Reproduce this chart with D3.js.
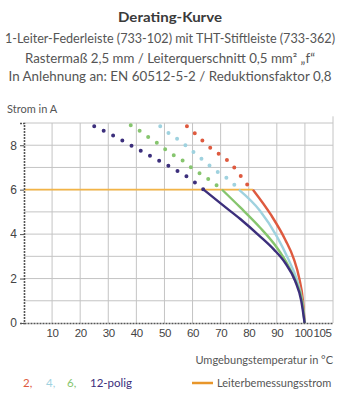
<!DOCTYPE html>
<html>
<head>
<meta charset="utf-8">
<script src="https://cdn.jsdelivr.net/npm/d3@7"></script>
<style>
  body { margin: 0; background: #fff; }
  svg { display: block; font-family: Lato, "Open Sans", sans-serif; }
</style>
</head>
<body>
<svg id="chart"></svg>
<script>
// tick labels
const tempTicks = [10, 20, 30, 40, 50, 60, 70, 80, 90, 100, 105];
const currentTicks = [0, 2, 4, 6, 8];

// series: pole count -> [temperature, current]
const poles = ['2', '4', '6', '12'];
const poleColors = ['#de5a3f', '#9fd2df', '#86c56e', '#3c2f7c'];

const dotted2 = [[58, 8.85], [62, 8.4], [65, 8.02], [68.5, 7.69], [72.5, 7.3], [76, 6.82], [79, 6.3], [81.5, 6.0]];
const solid2 = [[81.5, 6.0], [88, 4.85], [93, 3.75], [96, 2.9], [98, 2.0], [99.3, 1.0], [99.9, 0]];

const dotted4 = [[48.5, 8.85], [52, 8.5], [55.5, 8.2], [59, 7.84], [62.5, 7.46], [66, 7.09], [69.5, 6.74], [73, 6.44], [76.5, 6.0]];
const solid4 = [[76.5, 6.0], [84, 5.05], [90, 3.9], [94, 2.9], [97, 2.0], [99, 1.0], [99.9, 0]];

const dotted6 = [[38, 8.9], [41.5, 8.62], [45, 8.3], [48.5, 8.0], [52, 7.64], [55.5, 7.4], [59, 7.04], [62.5, 6.74], [66, 6.44], [70.5, 6.0]];
const solid6 = [[70.5, 6.0], [77, 5.2], [84, 4.3], [90, 3.4], [94, 2.6], [97, 1.8], [99, 1.0], [99.9, 0]];

const dotted12 = [[25, 8.85], [32, 8.42], [38, 8.0], [45, 7.52], [52, 7.03], [59, 6.5], [64, 6.0]];
const solid12 = [[64, 6.0], [70, 5.38], [77, 4.68], [84, 3.9], [89, 3.3], [93, 2.7], [96.5, 1.9], [98.7, 1.0], [99.9, 0]];

const dottedSeries = [dotted2, dotted4, dotted6, dotted12];
const solidSeries = [solid2, solid4, solid6, solid12];

// rated conductor current
const ratedCurrent = 6;
const ratedRange = [0, 81.5];

const titleLines = [
    'Derating-Kurve',
    '1-Leiter-Federleiste (733-102) mit THT-Stiftleiste (733-362)',
    'Rastermaß 2,5 mm / Leiterquerschnitt 0,5 mm² „f“',
    'In Anlehnung an: EN 60512-5-2 / Reduktionsfaktor 0,8'
];

class DeratingChart {

    constructor(config) {
        this.config = {
            parent: config.parent,
            width: config.width || 351,
            height: config.height || 400,
            margin: config.margin || {top: 123, right: 18, bottom: 77, left: 24}
        };
        this.init();
    }

    init() {
        let self = this;
        const m = self.config.margin;

        self.svg = d3.select(self.config.parent)
            .attr('width', self.config.width)
            .attr('height', self.config.height);

        self.inner_width = self.config.width - m.left - m.right;
        self.inner_height = self.config.height - m.top - m.bottom;

        self.chart = self.svg.append('g')
            .attr('transform', `translate(${m.left}, ${m.top})`);

        self.xscale = d3.scaleLinear().domain([0, 110]).range([0, self.inner_width]);
        self.yscale = d3.scaleLinear().domain([0, 9]).range([self.inner_height, 0]);
    }

    render() {
        let self = this;
        const x = self.xscale, y = self.yscale;
        const W = self.inner_width, H = self.inner_height;

        // titles
        const tl = [
            {y: 22, size: 14, weight: 'bold', fill: '#3a3a3a', len: 104},
            {y: 43, size: 12.5, weight: 'normal', fill: '#555', len: 330},
            {y: 63, size: 12.5, weight: 'normal', fill: '#555', len: 290},
            {y: 81, size: 12.5, weight: 'normal', fill: '#555', len: 323}
        ];
        self.svg.selectAll('.title')
            .data(titleLines)
            .join('text')
            .attr('class', 'title')
            .attr('x', 170)
            .attr('y', (d, i) => tl[i].y)
            .attr('text-anchor', 'middle')
            .style('font-size', (d, i) => tl[i].size + 'px')
            .style('font-weight', (d, i) => tl[i].weight)
            .attr('fill', (d, i) => tl[i].fill)
            .attr('textLength', (d, i) => tl[i].len)
            .attr('lengthAdjust', 'spacingAndGlyphs')
            .text(d => d);

        // grid
        const grid = self.chart.append('g');
        grid.selectAll('.hgrid')
            .data(d3.range(1, 10))
            .join('line')
            .attr('x1', 0).attr('x2', W)
            .attr('y1', d => y(d)).attr('y2', d => y(d))
            .attr('stroke', '#c4c4c4').attr('stroke-width', 1);
        grid.selectAll('.vgrid')
            .data(d3.range(10, 110, 10))
            .join('line')
            .attr('x1', d => x(d)).attr('x2', d => x(d))
            .attr('y1', y(0)).attr('y2', y(9))
            .attr('stroke', '#c4c4c4').attr('stroke-width', 1);
        grid.append('line')
            .attr('x1', x(110)).attr('x2', x(110))
            .attr('y1', y(0)).attr('y2', y(9.3))
            .attr('stroke', '#c4c4c4').attr('stroke-width', 1);

        // rated current line
        self.chart.append('line')
            .attr('x1', x(ratedRange[0])).attr('x2', x(ratedRange[1]))
            .attr('y1', y(ratedCurrent)).attr('y2', y(ratedCurrent))
            .attr('stroke', '#f2b447').attr('stroke-width', 1.6);

        const line = d3.line()
            .x(d => x(d[0]))
            .y(d => y(d[1]))
            .curve(d3.curveMonotoneX);

        // dotted parts
        self.chart.selectAll('.dotted')
            .data(dottedSeries)
            .join('path')
            .attr('d', line)
            .attr('fill', 'none')
            .attr('stroke', (d, i) => poleColors[i])
            .attr('stroke-width', 4)
            .attr('stroke-linecap', 'round')
            .attr('stroke-dasharray', '0 10.5');

        // solid parts
        self.chart.selectAll('.solid')
            .data(solidSeries)
            .join('path')
            .attr('d', line)
            .attr('fill', 'none')
            .attr('stroke', (d, i) => poleColors[i])
            .attr('stroke-width', 2.4);

        // axes
        const yaxis = d3.axisLeft(y).tickValues(currentTicks).tickSize(4).tickPadding(3);
        const yg = self.chart.append('g').call(yaxis);
        yg.select('.domain').attr('stroke', '#555').attr('stroke-width', 1.6).attr('stroke-dasharray', '2 1');
        yg.selectAll('.tick line').attr('stroke', '#555');
        yg.selectAll('text').style('font-size', '12px').attr('fill', '#444');

        const xaxis = d3.axisBottom(x).tickValues(tempTicks).tickSize(0).tickPadding(6);
        const xg = self.chart.append('g')
            .attr('transform', `translate(0, ${H})`)
            .call(xaxis);
        xg.select('.domain').attr('stroke', '#555').attr('stroke-width', 1.6).attr('stroke-dasharray', '2 1');
        xg.selectAll('text')
            .style('font-size', '11.5px')
            .style('letter-spacing', '-0.4px')
            .attr('fill', '#444')
            .attr('dx', d => d === 100 ? -2 : d === 105 ? 3 : 0);

        // axis titles
        self.svg.append('text')
            .attr('x', 7).attr('y', 113)
            .style('font-size', '11px').attr('fill', '#555')
            .text('Strom in A');
        self.svg.append('text')
            .attr('x', 333).attr('y', 364)
            .attr('text-anchor', 'end')
            .style('font-size', '11px').attr('fill', '#555')
            .text('Umgebungstemperatur in °C');

        // legend
        const legX = [23, 46, 67, 90];
        const leg = self.svg.append('text')
            .attr('y', 387)
            .style('font-size', '11.5px');
        poles.forEach((p, i) => {
            leg.append('tspan')
                .attr('x', legX[i])
                .attr('fill', poleColors[i])
                .text(i < poles.length - 1 ? p + ',' : p + '-polig');
        });
        self.svg.append('line')
            .attr('x1', 192).attr('x2', 213)
            .attr('y1', 383).attr('y2', 383)
            .attr('stroke', '#e8962a').attr('stroke-width', 2.5);
        self.svg.append('text')
            .attr('x', 217).attr('y', 387)
            .style('font-size', '11px').attr('fill', '#555')
            .text('Leiterbemessungsstrom');
    }
}

const chart = new DeratingChart({parent: '#chart'});
chart.render();
</script>
</body>
</html>
